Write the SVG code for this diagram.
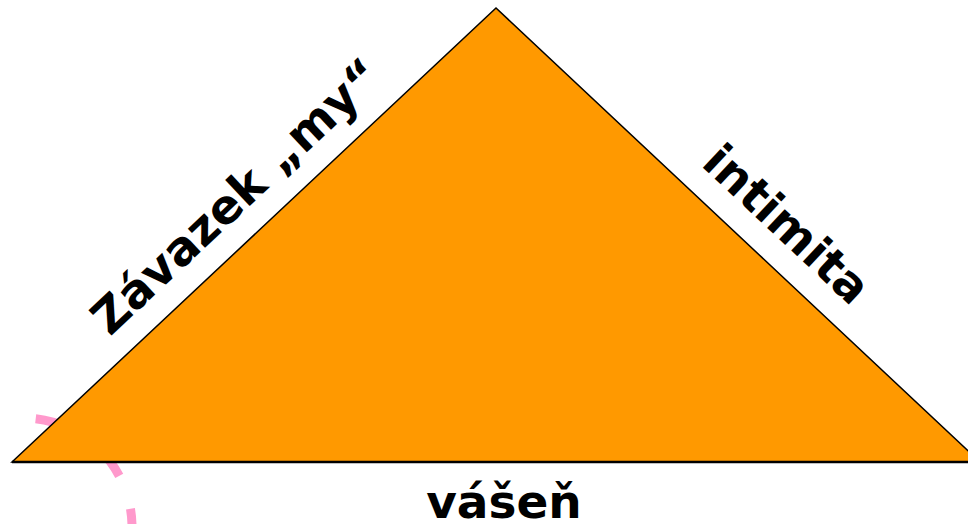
<svg xmlns="http://www.w3.org/2000/svg" width="968" height="524" viewBox="0 0 968 524">
<style>
.lbl{font-family:"DejaVu Sans","Liberation Sans",sans-serif;font-weight:bold;font-size:47px;fill:#000}
</style>
<rect width="968" height="524" fill="#fff"/>
<g id="pink-arc">
<path d="M35.7,418.7 A109,109 0 0 1 132,527" fill="none" stroke="#FF99CC" stroke-width="9" stroke-dasharray="35 35"/>
</g>
<g id="triangle">
<polygon points="12,462 496,8 980,462" fill="#FF9900" stroke="#000" stroke-width="1.5" stroke-linejoin="miter"/>
<line x1="12" y1="462" x2="980" y2="462" stroke="#000" stroke-width="2.5"/>
</g>
<g id="label-zavazek">
<text class="lbl" transform="translate(110,337) rotate(-43.17)">Závazek „my“</text>
</g>
<g id="label-intimita">
<text class="lbl" transform="translate(700,165) rotate(43.17)">intimita</text>
</g>
<g id="label-vasen">
<text class="lbl" x="504" y="518" text-anchor="middle">vášeň</text>
</g>
</svg>
